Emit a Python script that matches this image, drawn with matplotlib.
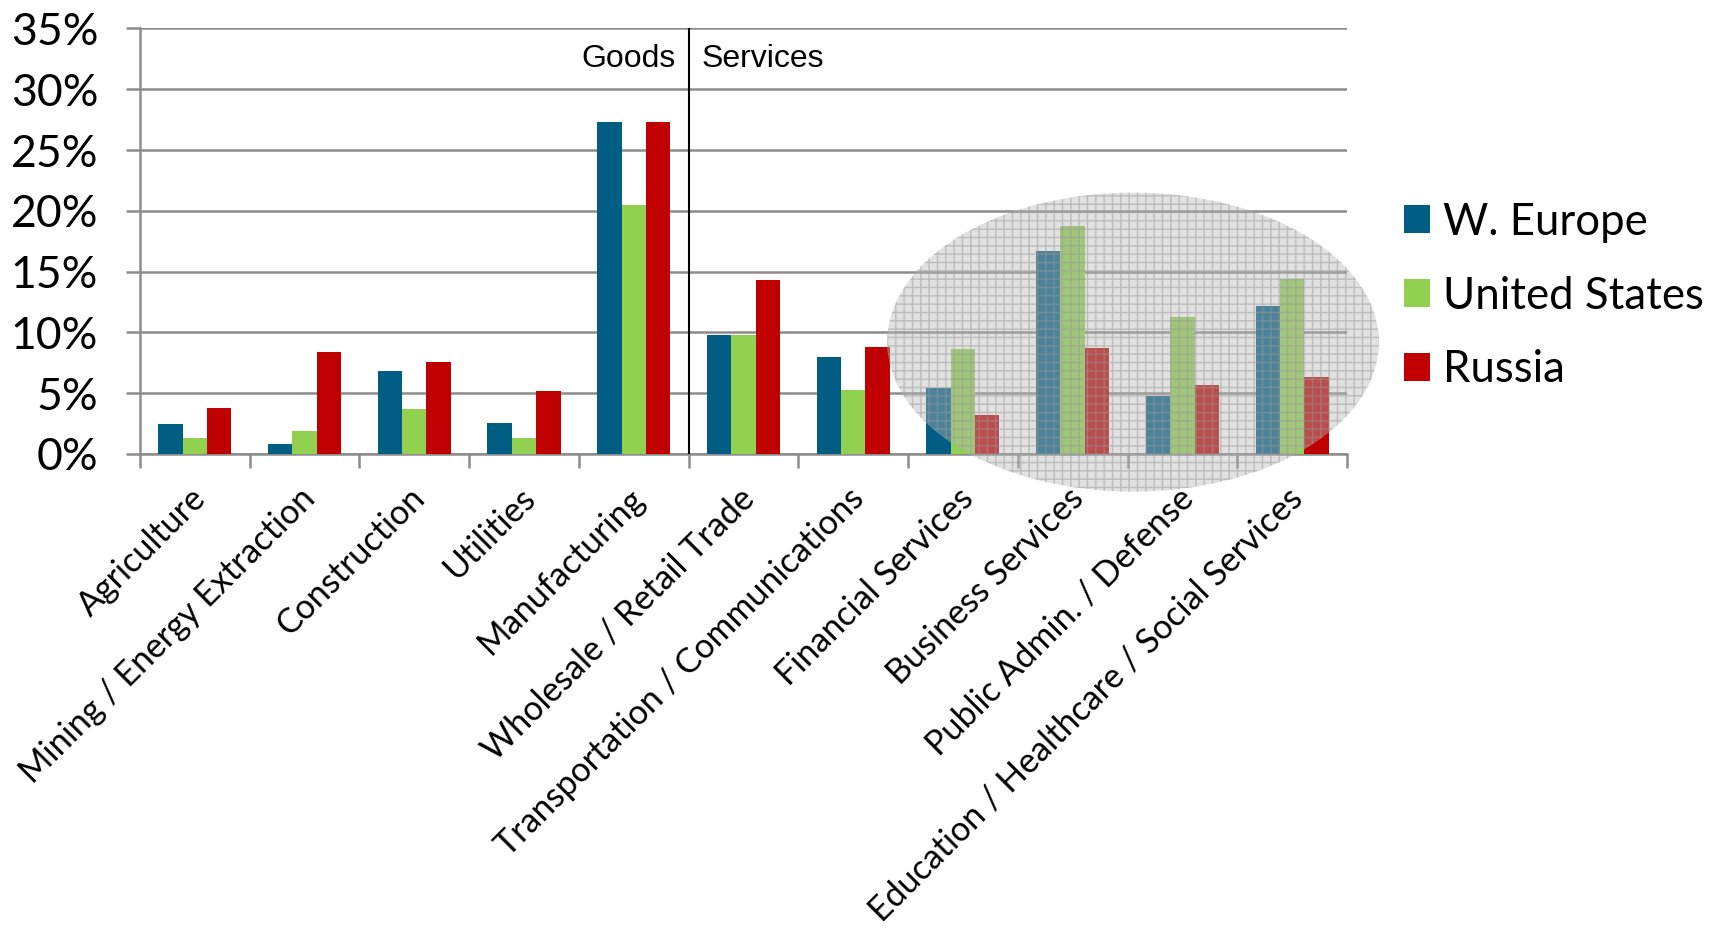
import matplotlib
matplotlib.use("Agg")
import matplotlib.pyplot as plt
import matplotlib.transforms as mtransforms
from matplotlib.patches import Ellipse, Patch
import numpy as np

categories = ["Agriculture", "Mining / Energy Extraction", "Construction", "Utilities",
              "Manufacturing", "Wholesale / Retail Trade", "Transportation / Communications",
              "Financial Services", "Business Services", "Public Admin. / Defense",
              "Education / Healthcare / Social Services"]
w_europe = [2.45, 0.85, 6.8, 2.55, 27.3, 9.8, 8.0, 5.4, 16.7, 4.8, 12.2]
united_states = [1.35, 1.85, 3.7, 1.35, 20.5, 9.8, 5.3, 8.65, 18.75, 11.3, 14.4]
russia = [3.75, 8.4, 7.6, 5.2, 27.3, 14.3, 8.8, 3.2, 8.75, 5.7, 6.3]
series_names = ["W. Europe", "United States", "Russia"]
yticks = [0, 5, 10, 15, 20, 25, 30, 35]
highlighted = [7, 8, 9, 10]
goods_count = 5

colors = ["#005E85", "#92D050", "#C00000"]
grid_c = "#8C8C8C"

fig = plt.figure(figsize=(17.19, 9.31), dpi=100)
ax = fig.add_axes([0.0814, 0.5124, 0.7022, 0.457])

x = np.arange(len(categories))
bw = 0.222
for k, (vals, c) in enumerate(zip([w_europe, united_states, russia], colors)):
    ax.bar(x + (k - 1) * bw, vals, width=bw, color=c, zorder=3, linewidth=0)

ax.set_xlim(-0.5, len(categories) - 0.5)
ax.set_ylim(0, 35)
ax.set_yticks(yticks)
ax.set_yticklabels([f"{v}%" for v in yticks], fontsize=32, family="Lato")
ax.yaxis.grid(True, color=grid_c, linewidth=1.8, zorder=1)
ax.tick_params(axis="y", length=10, color=grid_c, width=1.8, pad=20)

ax.set_xticks(x)
ax.set_xticklabels(categories, rotation=45, ha="right", va="top",
                   rotation_mode="anchor", fontsize=24.5, family="Lato")
ax.tick_params(axis="x", which="major", length=0, pad=20)
offset = mtransforms.ScaledTranslation(-4 / 72, 0, fig.dpi_scale_trans)
for lbl in ax.get_xticklabels():
    lbl.set_transform(lbl.get_transform() + offset)
ax.set_xticks(np.arange(-0.5, len(categories)), minor=True)
ax.tick_params(axis="x", which="minor", length=10, color=grid_c, width=1.8)

for s in ["top", "right"]:
    ax.spines[s].set_visible(False)
for s in ["left", "bottom"]:
    ax.spines[s].set_color(grid_c)
    ax.spines[s].set_linewidth(1.8)

# Goods / Services divider
div = goods_count - 0.5
ax.plot([div, div], [0, 35], color="black", linewidth=1.5, zorder=4)
ax.text(div - 0.12, 32.5, "Goods", ha="right", va="center", fontsize=23,
        family="Liberation Sans")
ax.text(div + 0.12, 32.5, "Services", ha="left", va="center", fontsize=23,
        family="Liberation Sans")

# highlight ellipse over the last categories
cx = np.mean(highlighted) + 0.05
ew = len(highlighted) + 0.48
e_fill = Ellipse((cx, 9.2), ew, 24.6, facecolor=(0.72, 0.72, 0.72, 0.42),
                 edgecolor="none", linewidth=0, zorder=5, clip_on=False)
ax.add_patch(e_fill)
plt.rcParams["hatch.linewidth"] = 1.0
e_hatch = Ellipse((cx, 9.2), ew, 24.6, facecolor="none",
                  edgecolor=(0.6, 0.6, 0.6, 0.5), hatch="++", linewidth=0,
                  zorder=6, clip_on=False)
ax.add_patch(e_hatch)

handles = [Patch(facecolor=c, edgecolor="none") for c in colors]
fig.legend(handles, series_names, loc="center left", bbox_to_anchor=(0.8168, 0.682),
           frameon=False, prop={"family": "Lato", "size": 31.5},
           handlelength=0.6, handleheight=0.6, handletextpad=0.3,
           labelspacing=0.75, borderpad=0, borderaxespad=0)

fig.savefig("out.png", dpi=100)
